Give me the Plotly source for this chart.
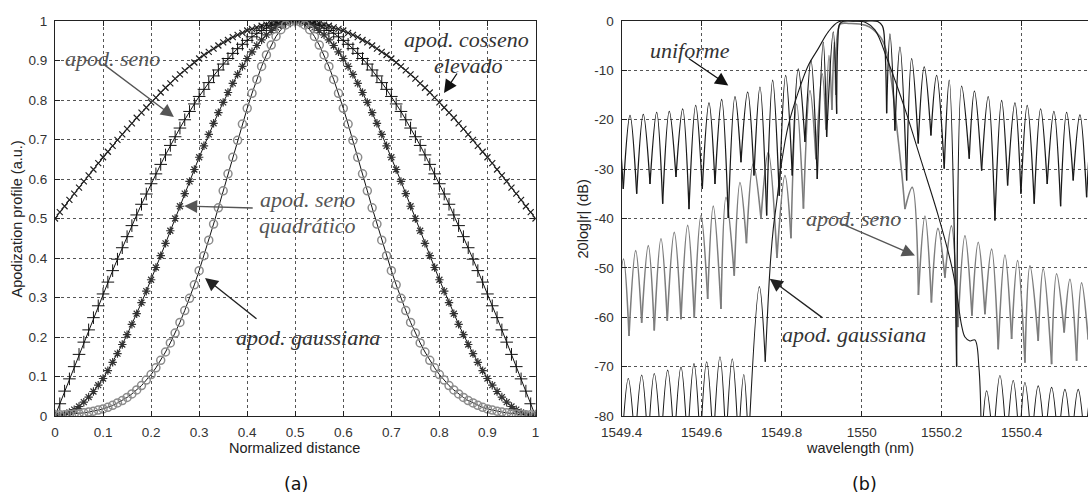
import plotly.graph_objects as go

# ---------------- (a) apodization profiles ----------------
x_norm = [0.00,0.01,0.02,0.03,0.04,0.05,0.06,0.07,0.08,0.09,0.10,0.11,0.12,0.13,0.14,0.15,0.16,0.17,0.18,0.19,
          0.20,0.21,0.22,0.23,0.24,0.25,0.26,0.27,0.28,0.29,0.30,0.31,0.32,0.33,0.34,0.35,0.36,0.37,0.38,0.39,
          0.40,0.41,0.42,0.43,0.44,0.45,0.46,0.47,0.48,0.49,0.50,0.51,0.52,0.53,0.54,0.55,0.56,0.57,0.58,0.59,
          0.60,0.61,0.62,0.63,0.64,0.65,0.66,0.67,0.68,0.69,0.70,0.71,0.72,0.73,0.74,0.75,0.76,0.77,0.78,0.79,
          0.80,0.81,0.82,0.83,0.84,0.85,0.86,0.87,0.88,0.89,0.90,0.91,0.92,0.93,0.94,0.95,0.96,0.97,0.98,0.99,1.00]

apod_cosseno = [0.500,0.516,0.531,0.547,0.563,0.578,0.594,0.609,0.624,0.640,0.655,0.669,0.684,0.699,0.713,0.727,0.741,0.755,0.768,0.781,
                0.794,0.806,0.819,0.831,0.842,0.854,0.865,0.875,0.885,0.895,0.905,0.914,0.922,0.930,0.938,0.946,0.952,0.959,0.965,0.970,
                0.976,0.980,0.984,0.988,0.991,0.994,0.996,0.998,0.999,1.000,1.000,1.000,0.999,0.998,0.996,0.994,0.991,0.988,0.984,0.980,
                0.976,0.970,0.965,0.959,0.952,0.946,0.938,0.930,0.922,0.914,0.905,0.895,0.885,0.875,0.865,0.854,0.842,0.831,0.819,0.806,
                0.794,0.781,0.768,0.755,0.741,0.727,0.713,0.699,0.684,0.669,0.655,0.640,0.624,0.609,0.594,0.578,0.563,0.547,0.531,0.516,0.500]

apod_seno = [0.000,0.031,0.063,0.094,0.125,0.156,0.187,0.218,0.249,0.279,0.309,0.339,0.368,0.397,0.426,0.454,0.482,0.509,0.536,0.562,
             0.588,0.613,0.637,0.661,0.685,0.707,0.729,0.750,0.771,0.790,0.809,0.827,0.844,0.861,0.876,0.891,0.905,0.918,0.930,0.941,
             0.951,0.960,0.969,0.976,0.982,0.988,0.992,0.996,0.998,1.000,1.000,1.000,0.998,0.996,0.992,0.988,0.982,0.976,0.969,0.960,
             0.951,0.941,0.930,0.918,0.905,0.891,0.876,0.861,0.844,0.827,0.809,0.790,0.771,0.750,0.729,0.707,0.685,0.661,0.637,0.613,
             0.588,0.562,0.536,0.509,0.482,0.454,0.426,0.397,0.368,0.339,0.309,0.279,0.249,0.218,0.187,0.156,0.125,0.094,0.063,0.031,0.000]

apod_seno_quad = [0.000,0.001,0.004,0.009,0.016,0.024,0.035,0.048,0.062,0.078,0.095,0.115,0.136,0.158,0.181,0.206,0.232,0.259,0.287,0.316,
                  0.345,0.376,0.406,0.437,0.469,0.500,0.531,0.563,0.594,0.624,0.655,0.684,0.713,0.741,0.768,0.794,0.819,0.842,0.865,0.885,
                  0.905,0.922,0.938,0.952,0.965,0.976,0.984,0.991,0.996,0.999,1.000,0.999,0.996,0.991,0.984,0.976,0.965,0.952,0.938,0.922,
                  0.905,0.885,0.865,0.842,0.819,0.794,0.768,0.741,0.713,0.684,0.655,0.624,0.594,0.563,0.531,0.500,0.469,0.437,0.406,0.376,
                  0.345,0.316,0.287,0.259,0.232,0.206,0.181,0.158,0.136,0.115,0.095,0.078,0.062,0.048,0.035,0.024,0.016,0.009,0.004,0.001,0.000]

apod_gauss = [0.002,0.003,0.003,0.004,0.005,0.006,0.008,0.010,0.012,0.015,0.018,0.022,0.027,0.033,0.039,0.047,0.056,0.066,0.077,0.091,
              0.105,0.122,0.141,0.162,0.185,0.210,0.237,0.267,0.298,0.332,0.368,0.406,0.445,0.486,0.527,0.570,0.613,0.655,0.698,0.739,
              0.779,0.817,0.852,0.885,0.914,0.939,0.961,0.978,0.990,0.998,1.000,0.998,0.990,0.978,0.961,0.939,0.914,0.885,0.852,0.817,
              0.779,0.739,0.698,0.655,0.613,0.570,0.527,0.486,0.445,0.406,0.368,0.332,0.298,0.267,0.237,0.210,0.185,0.162,0.141,0.122,
              0.105,0.091,0.077,0.066,0.056,0.047,0.039,0.033,0.027,0.022,0.018,0.015,0.012,0.010,0.008,0.006,0.005,0.004,0.003,0.003,0.002]

# ---------------- (b) reflection spectra (nulls / peaks of each side lobe) ----------------
# uniform
u_null_L_lam = [1549.371,1549.404,1549.4375,1549.4708,1549.5025,1549.5358,1549.5683,1549.6015,1549.6333,1549.6665,
                1549.6983,1549.7308,1549.7625,1549.794,1549.8265,1549.8583,1549.889,1549.9125,1549.9375]
u_null_L_db = [-33.0,-34.0,-35.0,-33.0,-37.0,-31.6,-38.1,-34.0,-33.0,-39.9,-28.6,-31.3,-39.4,-35.4,-31.3,-24.5,-32.0,-23.5,-18.8]
u_peak_L_lam = [1549.388,1549.4208,1549.454,1549.4875,1549.519,1549.5525,1549.585,1549.6183,1549.65,1549.6833,
                1549.715,1549.7458,1549.7775,1549.81,1549.8415,1549.8733,1549.904,1549.929]
u_peak_L_db = [-19.2,-19.1,-18.9,-18.5,-18.3,-17.8,-17.1,-16.6,-15.9,-15.3,-14.4,-13.4,-12.0,-11.0,-9.7,-8.0,-4.3,-2.2]
u_band_lam = [1549.9375,1549.9405,1549.945,1549.955,1549.98,1550.01,1550.04,1550.052,1550.058,1550.0625]
u_band_db = [-18.8,-4.0,-0.6,-0.05,0.0,0.0,-0.1,-1.0,-5.0,-18.7]
u_null_R_lam = [1550.0625,1550.0833,1550.1125,1550.1415,1550.1733,1550.2065,1550.2375,1550.269,1550.300,1550.3333,
                1550.365,1550.3983,1550.4315,1550.464,1550.4975,1550.529,1550.5625,1550.5933]
u_null_R_db = [-18.7,-22.2,-32.3,-24.8,-23.2,-29.9,-70.0,-27.9,-30.3,-40.4,-33.3,-35.0,-37.0,-33.0,-37.5,-32.3,-35.7,-34.0]
u_peak_R_lam = [1550.0708,1550.0958,1550.125,1550.1565,1550.1875,1550.219,1550.25,1550.282,1550.3165,1550.35,
                1550.3833,1550.414,1550.4475,1550.4808,1550.5125,1550.5458,1550.5783]
u_peak_R_db = [-2.6,-5.3,-7.6,-9.3,-11.0,-12.0,-13.2,-14.2,-15.3,-16.1,-16.6,-17.1,-17.8,-18.3,-18.5,-19.0,-19.2]

# apod. seno
s_null_L_lam = [1549.3883,1549.4183,1549.45,1549.4815,1549.514,1549.5483,1549.5815,1549.615,1549.6483,1549.6815,
                1549.712,1549.7483,1549.7883,1549.8233,1549.8545,1549.8858,1549.9108,1549.9258,1549.9355]
s_null_L_db = [-62.0,-63.8,-61.1,-62.7,-60.7,-60.4,-60.1,-56.3,-58.3,-51.6,-45.0,-40.0,-48.0,-44.0,-38.0,-28.0,-22.0,-18.0,-15.0]
s_peak_L_lam = [1549.4045,1549.435,1549.4665,1549.4983,1549.5315,1549.565,1549.5983,1549.629,1549.6608,1549.6958,
                1549.729,1549.7665,1549.8083,1549.8375,1549.8708,1549.9015,1549.9183,1549.9315]
s_peak_L_db = [-48.2,-46.5,-45.5,-44.1,-42.8,-41.4,-39.4,-37.5,-35.7,-32.7,-28.9,-26.6,-31.3,-16.8,-14.1,-10.7,-7.0,-4.3]
s_band_lam = [1549.9355,1549.939,1549.9473,1549.97,1549.995,1550.02,1550.04,1550.05,1550.0625,1550.075,1550.0875,1550.1,1550.1083]
s_band_db = [-15.0,-3.0,-0.6,-0.5,-0.6,-1.2,-2.6,-3.6,-6.3,-12.4,-21.2,-30.6,-38.1]
s_null_R_lam = [1550.1083,1550.142,1550.1745,1550.2083,1550.2408,1550.2758,1550.3083,1550.3415,1550.375,1550.4083,
                1550.4415,1550.475,1550.5065,1550.5375,1550.5665,1550.5983]
s_null_R_db = [-38.1,-55.5,-57.0,-52.0,-62.0,-59.7,-59.4,-66.5,-64.4,-69.2,-64.8,-69.5,-63.1,-68.8,-64.5,-68.0]
s_peak_R_lam = [1550.1265,1550.1583,1550.1908,1550.2245,1550.2583,1550.2915,1550.325,1550.3583,1550.39,1550.4208,
                1550.454,1550.4875,1550.5208,1550.55,1550.5833]
s_peak_R_db = [-33.7,-39.5,-42.0,-41.5,-43.5,-44.8,-46.2,-47.4,-48.5,-49.6,-50.2,-51.2,-52.3,-53.0,-53.5]

# apod. gaussiana
g_null_L_lam = [1549.4003,1549.4333,1549.4658,1549.4983,1549.5315,1549.5645,1549.5965,1549.629,1549.6608,1549.692,1549.717,1549.759]
g_null_L_db = [-86.0,-86.0,-86.0,-86.0,-86.0,-86.0,-86.0,-86.0,-86.0,-86.0,-86.0,-69.0]
g_peak_L_lam = [1549.4165,1549.45,1549.4815,1549.515,1549.5483,1549.5808,1549.6125,1549.6458,1549.6765,1549.7053,1549.7443]
g_peak_L_db = [-72.4,-71.7,-71.4,-70.7,-70.1,-69.4,-69.0,-68.0,-68.4,-71.6,-53.8]
g_band_lam = [1549.759,1549.7708,1549.779,1549.7875,1549.8,1549.8165,1549.8415,1549.8665,1549.8915,1549.9165,1549.9415,
              1549.98,1550.01,1550.0333,1550.0665,1550.1083,1550.15,1550.1915,1550.225,1550.2375,1550.25,1550.2583,
              1550.2708,1550.2833,1550.2933,1550.2995]
g_band_db = [-69.0,-50.2,-42.1,-36.7,-28.6,-21.2,-14.4,-9.0,-5.6,-2.2,-0.2,0.0,-0.3,-1.8,-8.3,-17.8,-28.6,-39.4,-49.6,
             -55.0,-61.7,-64.0,-64.8,-64.6,-70.2,-86.0]
g_null_R_lam = [1550.2995,1550.329,1550.3625,1550.3945,1550.425,1550.4583,1550.4915,1550.525,1550.5583,1550.5908]
g_null_R_db = [-86.0,-86.0,-86.0,-86.0,-86.0,-86.0,-86.0,-86.0,-86.0,-86.0]
g_peak_R_lam = [1550.3125,1550.3458,1550.379,1550.4083,1550.4415,1550.475,1550.5083,1550.5415,1550.5745]
g_peak_R_db = [-74.9,-71.8,-72.8,-73.2,-73.9,-74.2,-74.6,-74.6,-75.0]

wl_ticks = [1549.4, 1549.6, 1549.8, 1550.0, 1550.2, 1550.4]
wl_ticktext = ["1549.4", "1549.6", "1549.8", "1550", "1550.2", "1550.4"]
db_ticks = [0, -10, -20, -30, -40, -50, -60, -70, -80]
db_ticktext = ["0", "-10", "-20", "-30", "-40", "-50", "-60", "-70", "-80"]


def lobes(nl, nd, pl, pd):
    xs, ys = [], []
    for i in range(len(pl)):
        xs += [nl[i], pl[i], nl[i + 1], None]
        ys += [nd[i], pd[i], nd[i + 1], None]
    return xs, ys


def spectrum(nlL, ndL, plL, pdL, bl, bd, nlR, ndR, plR, pdR):
    x1, y1 = lobes(nlL, ndL, plL, pdL)
    x2, y2 = lobes(nlR, ndR, plR, pdR)
    return x1 + list(bl) + [None] + x2, y1 + list(bd) + [None] + y2


SANS = "Liberation Sans, Arial, sans-serif"
SERIF = "Liberation Serif, Times New Roman, serif"

fig = go.Figure()

# (a)
fig.add_trace(go.Scatter(x=x_norm, y=apod_cosseno, mode="lines+markers", xaxis="x", yaxis="y",
                         line=dict(color="#111", width=1),
                         marker=dict(symbol="x-thin-open", size=6, color="#222", line=dict(width=1.2))))
fig.add_trace(go.Scatter(x=x_norm, y=apod_seno, mode="lines+markers", xaxis="x", yaxis="y",
                         line=dict(color="#111", width=1),
                         marker=dict(symbol="cross-thin-open", size=9, color="#111", line=dict(width=1))))
fig.add_trace(go.Scatter(x=x_norm, y=apod_seno_quad, mode="lines+markers", xaxis="x", yaxis="y",
                         line=dict(color="#111", width=1),
                         marker=dict(symbol="asterisk-open", size=7, color="#333", line=dict(width=1.2))))
fig.add_trace(go.Scatter(x=x_norm, y=apod_gauss, mode="lines+markers", xaxis="x", yaxis="y",
                         line=dict(color="#111", width=1),
                         marker=dict(symbol="circle-open", size=8, color="#8c8c8c", line=dict(width=1.5))))

# (b)
sx, sy = spectrum(s_null_L_lam, s_null_L_db, s_peak_L_lam, s_peak_L_db, s_band_lam, s_band_db,
                  s_null_R_lam, s_null_R_db, s_peak_R_lam, s_peak_R_db)
ux, uy = spectrum(u_null_L_lam, u_null_L_db, u_peak_L_lam, u_peak_L_db, u_band_lam, u_band_db,
                  u_null_R_lam, u_null_R_db, u_peak_R_lam, u_peak_R_db)
gx, gy = spectrum(g_null_L_lam, g_null_L_db, g_peak_L_lam, g_peak_L_db, g_band_lam, g_band_db,
                  g_null_R_lam, g_null_R_db, g_peak_R_lam, g_peak_R_db)
fig.add_trace(go.Scatter(x=sx, y=sy, mode="lines", xaxis="x2", yaxis="y2", connectgaps=False,
                         line=dict(color="#7d7d7d", width=1.6, shape="spline", smoothing=1, simplify=False)))
fig.add_trace(go.Scatter(x=ux, y=uy, mode="lines", xaxis="x2", yaxis="y2", connectgaps=False,
                         line=dict(color="#1a1a1a", width=1.3, shape="spline", smoothing=1, simplify=False)))
fig.add_trace(go.Scatter(x=gx, y=gy, mode="lines", xaxis="x2", yaxis="y2", connectgaps=False,
                         line=dict(color="#1a1a1a", width=1.1, shape="spline", smoothing=1, simplify=False)))

axis_common = dict(showline=True, linecolor="#222", linewidth=1.2, ticks="inside", ticklen=5, tickcolor="#222",
                   showgrid=True, gridcolor="#555", griddash="dot", gridwidth=1, zeroline=False, automargin=False,
                   tickfont=dict(family=SANS, size=13.5, color="#333"), ticklabelstandoff=4)

fig.update_layout(
    template="none",
    width=1088, height=495,
    margin=dict(l=0, r=0, t=21, b=79, pad=0),
    paper_bgcolor="white", plot_bgcolor="white",
    showlegend=False,
    xaxis=dict(domain=[0.05055, 0.49219], range=[0, 1], tick0=0, dtick=0.1, anchor="y", mirror="ticks", **axis_common),
    yaxis=dict(domain=[0, 1], range=[0, 1], tick0=0, dtick=0.1, anchor="x", mirror="ticks", **axis_common),
    xaxis2=dict(domain=[0.5714, 1.0], range=[1549.4, 1550.566], tickmode="array", tickvals=wl_ticks,
                ticktext=wl_ticktext, anchor="y2", mirror="ticks", **axis_common),
    yaxis2=dict(domain=[0, 1], range=[-80, 0], tickmode="array", tickvals=db_ticks, ticktext=db_ticktext,
                anchor="x2", mirror=False, **axis_common),
)

ann = []
title_font = dict(family=SANS, size=14.5, color="#222")
ann.append(dict(text="Normalized distance", xref="paper", yref="paper", x=0.2711, y=-0.081,
                showarrow=False, xanchor="center", yanchor="middle", font=title_font))
ann.append(dict(text="wavelength (nm)", xref="paper", yref="paper", x=0.7909, y=-0.081,
                showarrow=False, xanchor="center", yanchor="middle", font=title_font))
ann.append(dict(text="Apodization profile (a.u.)", xref="paper", yref="paper", x=0.0156, y=0.5, textangle=-90,
                showarrow=False, xanchor="center", yanchor="middle", font=title_font))
ann.append(dict(text="20log|r| (dB)", xref="paper", yref="paper", x=0.5358, y=0.5, textangle=-90,
                showarrow=False, xanchor="center", yanchor="middle", font=title_font))
lab_font = dict(family="DejaVu Sans, sans-serif", size=17.5, color="#111")
ann.append(dict(text="(a)", xref="paper", yref="paper", x=0.2721, y=-0.172, showarrow=False,
                xanchor="center", yanchor="middle", font=lab_font))
ann.append(dict(text="(b)", xref="paper", yref="paper", x=0.795, y=-0.172, showarrow=False,
                xanchor="center", yanchor="middle", font=lab_font))


def label(txt, x, y, xr, yr, color):
    ann.append(dict(text="<i>" + txt + "</i>", x=x, y=y, xref=xr, yref=yr, showarrow=False,
                    xanchor="center", yanchor="middle", font=dict(family=SERIF, size=22, color=color)))


def arrow(x, y, ax, ay, xr, yr, color):
    ann.append(dict(text="", x=x, y=y, xref=xr, yref=yr, ax=ax, ay=ay, showarrow=True,
                    arrowhead=2, arrowsize=2.0, arrowwidth=1.3, arrowcolor=color, font=dict(size=1)))


label("apod. seno", 0.1203, 0.906, "x", "y", "#555")
arrow(0.2474, 0.757, -72, -54, "x", "y", "#555")
label("apod. cosseno", 0.8568, 0.952, "x", "y", "#333")
label("elevado", 0.8595, 0.8886, "x", "y", "#333")
arrow(0.8096, 0.8177, 14, -21, "x", "y", "#111")
label("apod. seno", 0.5265, 0.549, "x", "y", "#555")
label("quadrático", 0.5265, 0.4835, "x", "y", "#555")
arrow(0.2689, 0.5316, 70, 2, "x", "y", "#555")
label("apod. gaussiana", 0.5265, 0.20, "x", "y", "#333")
arrow(0.3122, 0.3494, 53, 42, "x", "y", "#222")

label("uniforme", 1549.5708, -5.94, "x2", "y2", "#333")
arrow(1549.6665, -13.05, -41, -28, "x2", "y2", "#111")
label("apod. seno", 1549.9795, -40.0, "x2", "y2", "#555")
arrow(1550.1333, -47.5, -74, -32, "x2", "y2", "#555")
label("apod. gaussiana", 1549.98, -63.4, "x2", "y2", "#333")
arrow(1549.7703, -52.2, 54, 40, "x2", "y2", "#222")

fig.update_layout(annotations=ann)
# remove the browser's default 8px page margin so the figure starts at the window's top-left corner
fig.write_html("out.html", config={"displayModeBar": False},
               post_script="document.body.style.margin='0px';document.body.style.overflow='hidden';")
